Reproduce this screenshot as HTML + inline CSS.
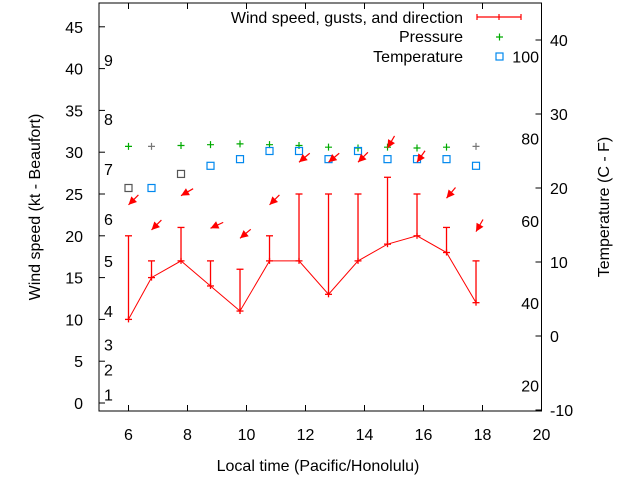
<!DOCTYPE html>
<html><head><meta charset="utf-8"><style>
body{margin:0;background:#fff}
svg text{font-family:"Liberation Sans",sans-serif;font-size:16px;fill:#000}
</style></head><body>
<svg id="chart" width="640" height="480" xmlns="http://www.w3.org/2000/svg">
<g id="axes"></g><g id="marks"></g>
</svg>
<script>
const hours=[6.0,6.78,7.78,8.78,9.78,10.78,11.78,12.78,13.78,14.78,15.78,16.78,17.78];
const wind=[10,15,17,14,11,17,17,13,17,19,20,18,12];
const gusts=[20,17,21,17,16,20,25,25,25,27,25,21,17];
const pressure=[30.7,30.7,30.8,30.9,31.0,30.9,30.8,30.6,30.5,30.6,30.5,30.6,30.7];
const pressureStale=[false,true,false,false,false,false,false,false,false,false,false,false,true];
const tempC=[20,20,21.9,23,23.9,25,25,23.9,25,23.9,23.9,23.9,23];
const tempStale=[true,false,true,false,false,false,false,false,false,false,false,false,false];
const arrowY=[23.7,20.7,24.8,20.9,19.7,23.7,28.8,28.8,28.8,30.5,28.8,24.5,20.5];
const arrowDir=[45,45,30,25,40,45,40,40,45,60,55,50,60];
const xTicks=[6,8,10,12,14,16,18,20];
const yTicks=[0,5,10,15,20,25,30,35,40,45];
const cTicks=[-10,0,10,20,30,40];
const fTicks=[20,40,60,80,100];
const bfLabels=[1,2,3,4,5,6,7,8,9];
const bfY=[1,4,7,11,17,22,28,34,41];

const X=v=>99+(v-5)*29.5;
const Y=v=>403-v*8.36;
const YC=c=>336-c*7.4;
const YF=f=>YC((f-32)*5/9);
const NS='http://www.w3.org/2000/svg';
const ax=document.getElementById('axes'),mk=document.getElementById('marks');
function el(p,t,a,txt){const e=document.createElementNS(NS,t);for(const k in a)e.setAttribute(k,a[k]);if(txt!==undefined)e.textContent=txt;p.appendChild(e);return e;}

let e=el(ax,'rect',{x:99,y:3,width:442.5,height:408,fill:'none',stroke:'#000','stroke-width':1});


xTicks.forEach(t=>{
 el(ax,'line',{x1:X(t),x2:X(t),y1:411,y2:405,stroke:'#000'});
 el(ax,'line',{x1:X(t),x2:X(t),y1:3,y2:9,stroke:'#000'});
 const l=el(ax,'text',{x:X(t),y:440,'text-anchor':'middle'},t);
 
 
});
yTicks.forEach(t=>{
 el(ax,'line',{x1:99,x2:105,y1:Y(t),y2:Y(t),stroke:'#000'});
 const l=el(ax,'text',{x:83,y:Y(t)+6,'text-anchor':'end'},t);
 
 
});
cTicks.forEach(t=>{
 el(ax,'line',{x1:541.5,x2:535.5,y1:YC(t),y2:YC(t),stroke:'#000'});
 const l=el(ax,'text',{x:550,y:YC(t)+6},t);
 
 
});
fTicks.forEach(t=>{
 const l=el(ax,'text',{x:539,y:YF(t)+6,'text-anchor':'end'},t);
 
 
});
bfLabels.forEach((b,i)=>{
 const l=el(ax,'text',{x:104,y:Y(bfY[i])+6},b);
 
 
});
e=el(ax,'text',{x:318,y:471,'text-anchor':'middle'},'Local time (Pacific/Honolulu)');


e=el(ax,'text',{x:0,y:0,'text-anchor':'middle',transform:'translate(40,207) rotate(-90)'},'Wind speed (kt - Beaufort)');


e=el(ax,'text',{x:0,y:0,'text-anchor':'middle',transform:'translate(609,207) rotate(-90)'},'Temperature (C - F)');



e=el(mk,'polyline',{points:hours.map((h,i)=>X(h)+','+Y(wind[i])).join(' '),fill:'none',stroke:'red','stroke-width':1});


hours.forEach((h,i)=>{
 const x=X(h);
 const g=el(mk,'g',{stroke:'red','stroke-width':1.3});
 
 
 el(g,'line',{x1:x,x2:x,y1:Y(wind[i]),y2:Y(gusts[i])});
 el(g,'line',{x1:x-3.5,x2:x+3.5,y1:Y(gusts[i]),y2:Y(gusts[i])});
 el(g,'line',{x1:x-3.5,x2:x+3.5,y1:Y(wind[i]),y2:Y(wind[i])});
 el(g,'line',{x1:x,x2:x,y1:Y(wind[i])-3,y2:Y(wind[i])+3});
 const pc=pressureStale[i]?'#777':'#0a0',py=Y(pressure[i]);
 const p=el(mk,'path',{d:`M${x-3.5} ${py}H${x+3.5}M${x} ${py-3.5}V${py+3.5}`,stroke:pc,'stroke-width':1.2});
 
 
 const tc=tempStale[i]?'#555':'#08e',ty=YC(tempC[i]);
 const s=el(mk,'rect',{x:x-3.5,y:ty-3.5,width:7,height:7,fill:'none',stroke:tc,'stroke-width':1.2});
 
 
 const ay=Y(arrowY[i]),a=arrowDir[i]*Math.PI/180,L=14;
 const tx=x+L*Math.cos(a),tY=ay-L*Math.sin(a);
 const hx=Math.cos(a),hy=-Math.sin(a),px=-hy,pyy=hx;
 const ar=el(mk,'g',{});
 
 
 el(ar,'line',{x1:tx,y1:tY,x2:x,y2:ay,stroke:'red','stroke-width':1.2});
 el(ar,'polygon',{points:`${x},${ay} ${x+hx*8+px*4},${ay+hy*8+pyy*4} ${x+hx*8-px*4},${ay+hy*8-pyy*4}`,fill:'red'});
});

const lg=el(mk,'g',{});


el(lg,'text',{x:463,y:23,'text-anchor':'end'},'Wind speed, gusts, and direction');
el(lg,'path',{d:'M477 17H521M477 14V20M521 14V20M499 14V20',stroke:'red','stroke-width':1.2,fill:'none'});
el(lg,'text',{x:463,y:42,'text-anchor':'end'},'Pressure');
el(lg,'path',{d:'M496 37H503M499.5 33.5V40.5',stroke:'#0a0','stroke-width':1.2});
el(lg,'text',{x:463,y:62,'text-anchor':'end'},'Temperature');
el(lg,'rect',{x:496,y:53,width:7,height:7,fill:'none',stroke:'#08e','stroke-width':1.2});
</script>
</body></html>
